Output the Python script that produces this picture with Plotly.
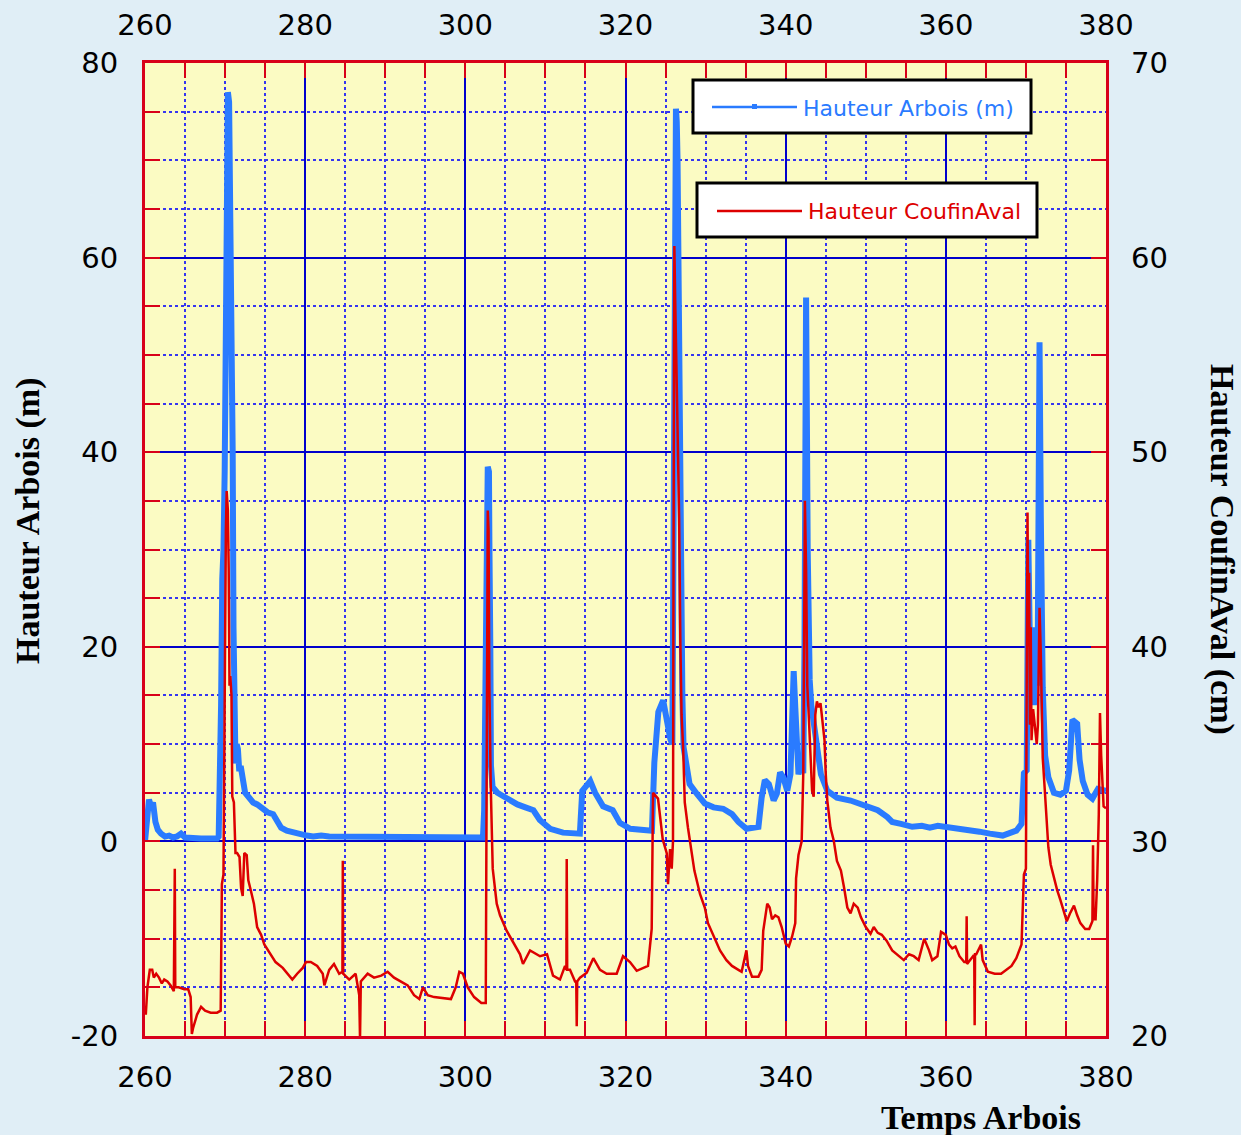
import plotly.graph_objects as go

# ---------------- data ----------------
# Hauteur Arbois (m) -- left axis
t_arbois = [260.0, 260.3, 260.5, 260.8, 261.0, 261.3, 261.6, 262.0, 262.5, 263.0, 263.5, 264.0, 264.5,
            265.0, 266.0, 267.0, 268.0, 269.0, 269.2, 269.35, 269.5, 269.65, 269.8, 269.95, 270.1, 270.25,
            270.35, 270.5, 270.6, 270.75, 270.85, 270.95, 271.05, 271.15, 271.3, 271.45, 271.6, 271.75,
            272.0, 272.5, 273.0, 273.5, 274.0, 274.7, 275.3, 276.0, 276.5, 277.0, 277.7, 278.5, 279.5,
            280.2, 281.0, 282.0, 283.0, 284.0, 285.0, 286.0, 287.0, 288.0, 289.0, 290.0, 291.0, 292.0,
            293.0, 294.0, 295.0, 296.0, 297.0, 298.0, 299.0, 300.0, 301.0, 302.2, 302.35, 302.5, 302.65,
            302.8, 302.95, 303.0, 303.05, 303.12, 303.2, 303.4, 304.0, 305.2, 306.5, 307.5, 308.5, 309.3,
            310.6, 312.2, 313.9, 314.3, 314.6, 315.6, 316.2, 317.2, 318.4, 319.3, 320.6, 322.0, 323.3,
            323.6, 324.1, 324.7, 325.1, 325.6, 325.85, 326.0, 326.1, 326.2, 326.3, 326.4, 326.5, 326.6,
            326.7, 326.8, 326.9, 327.0, 327.1, 327.25, 327.6, 328.0, 328.9, 329.9, 331.0, 332.2, 333.3,
            334.1, 335.1, 336.6, 337.0, 337.4, 337.9, 338.5, 338.9, 339.3, 339.7, 340.2, 340.6, 341.0,
            341.2, 341.4, 341.6, 341.9, 342.2, 342.35, 342.45, 342.55, 342.65, 342.75, 342.85, 343.0,
            343.2, 343.5, 343.9, 344.4, 345.2, 346.4, 348.1, 349.8, 351.5, 352.7, 353.3, 354.4, 355.8,
            357.0, 358.0, 359.0, 360.0, 361.0, 362.5, 364.2, 365.5, 367.1, 368.8, 369.45, 369.75, 370.1,
            370.3, 370.4, 370.5, 370.6, 370.75, 370.9, 371.0, 371.1, 371.3, 371.45, 371.57, 371.7, 371.86,
            372.0, 372.1, 372.4, 372.8, 373.5, 374.3, 375.0, 375.4, 375.8, 376.4, 376.7, 377.1, 377.7,
            378.3, 379.0, 380.0]
h_arbois = [0.0, 2.5, 4.3, 3.5, 4.0, 2.0, 1.2, 0.8, 0.5, 0.6, 0.4, 0.5, 0.8,
            0.4, 0.3, 0.3, 0.3, 0.3, 0.5, 5.0, 14.0, 27.0, 30.0, 38.0, 54.0, 70.0,
            77.0, 76.0, 68.0, 65.0, 55.0, 40.0, 22.0, 10.0, 8.0, 10.0, 9.5, 7.5,
            7.5, 5.0, 4.5, 4.0, 3.8, 3.3, 3.0, 2.8, 2.0, 1.4, 1.1, 0.9, 0.7,
            0.6, 0.5, 0.6, 0.5, 0.5, 0.4, 0.5, 0.4, 0.5, 0.4, 0.4, 0.5, 0.4,
            0.5, 0.4, 0.4, 0.5, 0.4, 0.4, 0.4, 0.5, 0.4, 0.4, 3.2, 12.0, 25.0,
            38.5, 38.0, 31.0, 28.5, 20.0, 7.8, 5.6, 5.0, 4.4, 3.8, 3.5, 3.2, 2.2,
            1.3, 0.9, 0.7, 0.8, 5.2, 6.2, 5.0, 3.6, 3.2, 1.9, 1.3, 1.2, 1.1,
            8.1, 13.3, 14.5, 12.5, 10.5, 10.0, 30.0, 55.0, 70.0, 75.3, 74.0, 70.0, 60.0,
            45.0, 33.0, 30.0, 20.0, 15.0, 9.7, 7.6, 5.9, 4.9, 3.9, 3.5, 3.35, 2.8,
            2.0, 1.3, 1.5, 4.5, 6.3, 5.9, 4.2, 4.9, 7.1, 6.6, 5.2, 6.9, 17.5,
            13.8, 9.3, 6.9, 8.0, 7.0, 20.0, 40.0, 55.9, 43.4, 30.0, 19.7, 16.6,
            14.0, 12.1, 10.4, 6.9, 5.2, 4.5, 4.2, 3.7, 3.2, 2.5, 2.0, 1.8, 1.5,
            1.6, 1.4, 1.6, 1.5, 1.4, 1.3, 1.0, 0.8, 0.6, 1.1, 1.8, 7.0, 7.3,
            31.0, 21.4, 25.0, 14.4, 22.0, 19.5, 14.0, 15.8, 21.4, 16.0, 34.3, 51.3, 33.5,
            20.0, 15.8, 8.8, 6.6, 5.0, 4.8, 5.2, 7.3, 12.5, 12.1, 8.4, 6.2, 4.8,
            4.4, 5.4, 5.2]

# Hauteur CoufinAval (cm) -- right axis
t_coufin = [260.0, 260.1, 260.3, 260.6, 260.9, 261.1, 261.4, 261.75, 262.1, 262.4, 262.8, 263.2, 263.6,
            263.72, 263.78, 264.2, 264.9, 265.4, 265.7, 265.85, 266.0, 266.5, 267.0, 267.5, 268.2, 269.0,
            269.45, 269.6, 269.8, 269.9, 270.0, 270.1, 270.2, 270.35, 270.45, 270.55, 270.65, 270.8, 270.9,
            271.1, 271.3, 271.5, 271.8, 272.0, 272.2, 272.4, 272.7, 272.9, 273.2, 273.6, 274.0, 274.5,
            274.9, 275.5, 276.3, 277.2, 277.8, 278.4, 279.0, 279.7, 280.1, 280.7, 281.5, 282.2, 282.4,
            283.0, 283.6, 284.25, 284.65, 284.7, 284.75, 285.5, 286.3, 286.75, 286.85, 286.95, 287.8, 288.6,
            289.5, 290.3, 291.1, 292.0, 292.8, 293.6, 294.25, 294.7, 295.3, 296.1, 297.0, 298.2, 298.8,
            299.25, 299.7, 300.3, 301.1, 302.0, 302.55, 302.65, 302.8, 302.9, 303.0, 303.17, 303.3, 303.42,
            303.92, 304.33, 305.17, 305.95, 306.83, 307.2, 308.08, 309.33, 310.2, 310.95, 311.82, 312.45,
            312.62, 312.66, 312.72, 313.07, 313.7, 313.85, 313.91, 313.97, 314.32, 315.16, 315.98, 316.82,
            317.65, 318.9, 319.69, 320.56, 321.4, 322.81, 323.27, 323.44, 324.06, 324.65, 325.15, 325.31,
            325.56, 325.77, 325.93, 326.0, 326.1, 326.2, 326.35, 326.55, 326.7, 326.85, 327.0, 327.2,
            327.4, 327.8, 328.2, 328.6, 329.3, 329.9, 330.3, 331.0, 331.8, 332.6, 333.3, 334.1, 334.5,
            335.1, 335.3, 335.8, 336.6, 337.0, 337.2, 337.7, 338.0, 338.3, 338.7, 339.1, 339.5, 340.0,
            340.4, 340.8, 341.2, 341.3, 341.6, 342.0, 342.2, 342.3, 342.4, 342.55, 342.7, 342.9, 343.0,
            343.1, 343.3, 343.5, 343.7, 343.9, 344.1, 344.35, 344.7, 344.85, 345.0, 345.2, 345.6, 346.0,
            346.4, 346.9, 347.3, 347.7, 348.1, 348.5, 349.0, 349.4, 350.0, 350.6, 351.0, 351.5, 352.0,
            352.6, 353.3, 354.1, 354.75, 355.4, 356.0, 356.6, 357.3, 357.9, 358.3, 358.95, 359.4, 360.0,
            360.4, 360.8, 361.2, 361.7, 362.3, 362.55, 362.6, 362.65, 363.4, 363.55, 363.6, 363.65, 363.8,
            364.4, 364.6, 365.25, 366.1, 366.9, 367.6, 368.2, 368.8, 369.45, 369.75, 370.0, 370.1, 370.2,
            370.3, 370.4, 370.5, 370.6, 370.7, 370.9, 371.1, 371.35, 371.5, 371.7, 371.85, 372.1, 372.3,
            372.5, 372.7, 372.8, 373.1, 373.45, 373.9, 374.3, 374.7, 375.1, 375.5, 376.0, 376.4, 376.8,
            377.4, 377.9, 378.3, 378.38, 378.45, 378.7, 378.9, 379.1, 379.25, 379.4, 379.7, 380.0]
h_coufin = [21.5, 21.1, 22.5, 23.4, 23.4, 23.0, 23.2, 23.0, 22.7, 22.9, 22.8, 22.6, 22.3,
            28.6, 22.5, 22.5, 22.4, 22.4, 22.0, 20.1, 20.4, 21.1, 21.5, 21.3, 21.2, 21.2,
            21.3, 27.8, 28.3, 35.0, 43.0, 46.0, 48.0, 47.0, 44.0, 38.0, 38.5, 37.5, 32.3,
            32.0, 29.4, 29.4, 29.2, 27.6, 27.2, 29.4, 29.3, 28.0, 27.5, 26.8, 25.6, 25.2,
            24.7, 24.3, 23.8, 23.5, 23.2, 22.9, 23.2, 23.5, 23.8, 23.8, 23.6, 23.2, 22.6,
            23.4, 23.7, 23.2, 23.3, 29.0, 23.2, 22.9, 23.2, 22.1, 19.9, 22.8, 23.2, 23.0,
            23.1, 23.3, 23.0, 22.8, 22.6, 22.1, 21.9, 22.5, 22.1, 22.0, 21.95, 21.9, 22.5,
            23.3, 23.2, 22.5, 22.0, 21.7, 21.7, 35.0, 47.0, 46.0, 38.0, 32.9, 30.0, 28.6,
            26.8, 26.2, 25.4, 24.8, 24.2, 23.7, 24.4, 24.1, 24.2, 23.1, 22.9, 23.6,
            23.4, 29.1, 23.4, 23.4, 22.8, 22.8, 20.5, 22.8, 23.0, 23.25, 24.0, 23.4,
            23.2, 23.2, 24.1, 23.8, 23.35, 23.6, 25.5, 32.5, 32.2, 30.1, 29.4, 27.8,
            29.6, 28.6, 30.0, 45.0, 60.6, 58.0, 54.9, 50.0, 46.6, 40.2, 36.5, 34.8,
            32.0, 30.7, 29.7, 28.5, 27.3, 26.6, 25.8, 25.1, 24.4, 23.9, 23.6, 23.4, 23.3,
            24.4, 23.6, 23.05, 23.05, 23.4, 25.4, 26.8, 26.6, 26.0, 26.2, 26.1, 25.6, 24.75,
            24.6, 25.1, 25.8, 28.1, 29.3, 30.0, 33.5, 40.0, 47.5, 44.0, 38.0, 36.3, 35.4,
            35.2, 32.6, 32.3, 36.5, 37.2, 36.9, 37.1, 35.9, 35.2, 33.5, 32.1, 30.7, 30.05,
            29.0, 28.5, 27.6, 26.6, 26.3, 26.8, 26.6, 26.1, 25.6, 25.25, 25.6, 25.3, 25.2,
            24.9, 24.4, 24.15, 23.9, 24.2, 24.1, 23.9, 25.0, 24.4, 23.9, 24.1, 25.35, 25.2,
            24.7, 24.5, 24.6, 24.1, 23.8, 23.8, 26.15, 23.7, 24.1, 24.0, 20.55, 24.2, 24.2,
            24.7, 23.9, 23.3, 23.2, 23.2, 23.4, 23.6, 24.0, 24.7, 28.3, 28.6, 38.0, 46.9,
            40.0, 43.8, 36.0, 41.0, 35.2, 36.8, 36.0, 35.0, 36.0, 42.0, 39.8, 34.3, 33.0,
            31.5, 30.6, 29.7, 28.8, 28.2, 27.5, 27.0, 26.4, 25.9, 26.3, 26.7, 26.2, 25.8,
            25.5, 25.5, 25.9, 29.8, 26.0, 26.0, 28.0, 31.4, 36.6, 34.4, 31.8, 31.7]

x_range = [260, 380]
x_ticks = [260, 280, 300, 320, 340, 360, 380]
x_ticktext = ["260", "280", "300", "320", "340", "360", "380"]
left_range = [-20, 80]
left_ticks = [-20, 0, 20, 40, 60, 80]
left_ticktext = ["-20", "0", "20", "40", "60", "80"]
right_range = [20, 70]
right_ticks = [20, 30, 40, 50, 60, 70]
right_ticktext = ["20", "30", "40", "50", "60", "70"]
name_arbois = "Hauteur Arbois (m)"
name_coufin = "Hauteur CoufinAval"
title_left = "Hauteur Arbois (m)"
title_right = "Hauteur CoufinAval (cm)"
title_x = "Temps Arbois"

# ---------------- style ----------------
BLUE = "#2A7BFF"
RED = "#DD0000"
GRID = "#0000CC"
MINOR_GRID = "#3535F0"
FRAME = "#D8001A"
PAPER = "#E0EEF6"
W, H = 1241, 1135
L, R, T, B = 145, 1106, 63, 1036
TICKFONT = dict(family="DejaVu Sans", size=29, color="black")


def px(xpix):
    return (xpix - L) / (R - L)


def py(ypix):
    return (B - ypix) / (B - T)


fig = go.Figure()
fig.add_trace(go.Scatter(x=t_arbois, y=h_arbois, mode="lines", name=name_arbois,
                         line=dict(color=BLUE, width=6), xaxis="x", yaxis="y",
                         showlegend=False))
fig.add_trace(go.Scatter(x=t_coufin, y=h_coufin, mode="lines", name=name_coufin,
                         line=dict(color=RED, width=2.5), xaxis="x", yaxis="y2",
                         showlegend=False))
# empty trace so that the top (mirror) time axis is drawn
fig.add_trace(go.Scatter(x=[], y=[], xaxis="x2", yaxis="y", showlegend=False, hoverinfo="skip"))

tick_common = dict(ticks="inside", ticklen=15, tickwidth=2, tickcolor=FRAME,
                   tickfont=TICKFONT, zeroline=False, automargin=False)
minor_ticks = dict(ticks="inside", ticklen=15, tickwidth=2, tickcolor=FRAME)

fig.update_layout(
    width=W, height=H, autosize=False,
    margin=dict(l=L, r=W - R, t=T, b=H - B, pad=0),
    paper_bgcolor=PAPER, plot_bgcolor="#FBFBC3",
    showlegend=False,
    xaxis=dict(range=x_range, tickmode="array", tickvals=x_ticks, ticktext=x_ticktext, **tick_common,
               showgrid=True, gridcolor=GRID, gridwidth=2,
               showline=True, linecolor=FRAME, linewidth=3, mirror=True,
               ticklabelstandoff=13,
               minor=dict(tick0=260, dtick=5, showgrid=True, gridcolor=MINOR_GRID,
                          griddash="dot", gridwidth=2, **minor_ticks)),
    xaxis2=dict(range=x_range, overlaying="x", side="top", anchor="y", tickmode="array",
                tickvals=x_ticks, ticktext=x_ticktext, **tick_common, showgrid=False, showline=False,
                ticklabelstandoff=21,
                minor=dict(tick0=260, dtick=5, showgrid=False, **minor_ticks)),
    yaxis=dict(range=left_range, tickmode="array", tickvals=left_ticks, ticktext=left_ticktext,
               **tick_common,
               showgrid=True, gridcolor=GRID, gridwidth=2,
               showline=True, linecolor=FRAME, linewidth=3, mirror=True,
               ticklabelstandoff=18,
               minor=dict(tick0=-20, dtick=5, showgrid=True, gridcolor=MINOR_GRID,
                          griddash="dot", gridwidth=2, **minor_ticks)),
    yaxis2=dict(range=right_range, overlaying="y", side="right", anchor="x", tickmode="array",
                tickvals=right_ticks, ticktext=right_ticktext, **tick_common,
                showgrid=False, showline=False,
                ticklabelstandoff=24,
                minor=dict(tick0=20, dtick=5, showgrid=False, **minor_ticks)),
)

# axis titles
title_font = dict(family="Liberation Serif", size=34, color="black")
fig.add_annotation(x=px(28), y=py(521), xref="paper", yref="paper", text="<b>" + title_left + "</b>",
                   textangle=-90, showarrow=False, font=title_font, xanchor="center", yanchor="middle")
fig.add_annotation(x=px(1222), y=py(549), xref="paper", yref="paper", text="<b>" + title_right + "</b>",
                   textangle=90, showarrow=False, font=title_font, xanchor="center", yanchor="middle")
fig.add_annotation(x=px(981), y=py(1117), xref="paper", yref="paper", text="<b>" + title_x + "</b>",
                   showarrow=False, font=title_font, xanchor="center", yanchor="middle")


# legend boxes (two separate boxes as in the original)
def legend_box(x0, y0, x1, y1, ly, lx0, lx1, color, text, tx, marker=False):
    fig.add_shape(type="rect", xref="paper", yref="paper", x0=px(x0), x1=px(x1), y0=py(y1), y1=py(y0),
                  line=dict(color="black", width=3), fillcolor="white", layer="above")
    fig.add_shape(type="line", xref="paper", yref="paper", x0=px(lx0), x1=px(lx1), y0=py(ly), y1=py(ly),
                  line=dict(color=color, width=2.5), layer="above")
    if marker:
        cx = (lx0 + lx1) / 2
        fig.add_shape(type="rect", xref="paper", yref="paper", x0=px(cx - 2.5), x1=px(cx + 2.5),
                      y0=py(ly + 2), y1=py(ly - 3), line=dict(width=0), fillcolor=color, layer="above")
    fig.add_annotation(x=px(tx), y=py(ly + 1), xref="paper", yref="paper", text=text, showarrow=False,
                       xanchor="left", yanchor="middle",
                       font=dict(family="DejaVu Sans", size=22, color=color))


legend_box(693, 80, 1031, 133, 107, 712, 797, BLUE, name_arbois, 801, marker=True)
legend_box(697, 183, 1037, 237, 211, 717, 802, RED, name_coufin, 806)

fig.write_html("out.html", config={"displayModeBar": False},
               post_script="document.body.style.margin='0';"
                           "document.body.style.backgroundColor='" + PAPER + "';")
